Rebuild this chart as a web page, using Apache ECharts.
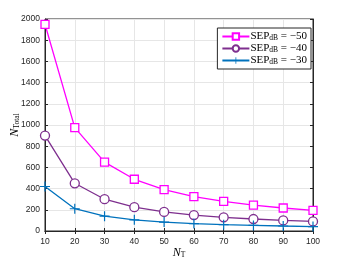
<!DOCTYPE html>
<html><head><meta charset="utf-8">
<script src="https://cdn.jsdelivr.net/npm/echarts@6/dist/echarts.min.js"></script>
<style>html,body{margin:0;padding:0;background:#fff}#c{width:346px;height:260px}</style>
</head><body><div id="c"></div>
<script>
const categories = [10, 20, 30, 40, 50, 60, 70, 80, 90, 100];
const sepMinus50 = [1950, 975, 650, 488, 390, 325, 279, 244, 217, 195];
const sepMinus40 = [900, 450, 300, 225, 180, 150, 129, 113, 100, 90];
const sepMinus30 = [420, 210, 140, 105, 84, 70, 60, 53, 47, 42];
const seriesNames = ['{n|SEP}{s|dB}{n| = \u221250}', '{n|SEP}{s|dB}{n| = \u221240}', '{n|SEP}{s|dB}{n| = \u221230}'];
const seriesKeys = ['s50', 's40', 's30'];
const labelsMap = {s50: seriesNames[0], s40: seriesNames[1], s30: seriesNames[2]};

const pair = arr => categories.map((c, i) => [c, arr[i]]);
const plusPath = 'path://M0,4.4H10V5.6H0Z M4.4,0H5.6V10H4.4Z';
const axisCol = '#262626';
const tickFont = {color: axisCol, fontSize: 8.5, fontFamily: 'Liberation Sans, Arial, sans-serif', formatter: v => String(v)};
const serif = 'Liberation Serif, DejaVu Serif, serif';
const rich = {
  n: {fontFamily: serif, fontSize: 11, color: '#000', lineHeight: 11},
  s: {fontFamily: serif, fontSize: 7.5, color: '#000', lineHeight: 4, verticalAlign: 'bottom'},
  i: {fontFamily: serif, fontSize: 12, fontStyle: 'italic', color: '#000', lineHeight: 12}
};

const chart = echarts.init(document.getElementById('c'), null, {renderer: 'canvas'});
const common = {type: 'line', showSymbol: true, symbolSize: 8, animation: false};
chart.setOption({
  backgroundColor: '#fff',
  animation: false,
  grid: {left: 45, right: 33, top: 19, bottom: 29, show: true, borderColor: axisCol, borderWidth: 1,
         containLabel: false, outerBoundsMode: 'none'},
  legend: {
    orient: 'vertical', right: 35, top: 28, itemWidth: 27, itemHeight: 8, itemGap: 1,
    backgroundColor: '#fff', borderColor: axisCol, borderWidth: 1, padding: [3, 4, 3, 4],
    formatter: k => labelsMap[k],
    textStyle: {rich: rich, padding: [0, 0, 0, -4]},
    data: seriesKeys
  },
  xAxis: [{
    type: 'value', min: 10, max: 100, interval: 10,
    axisLine: {show: true, lineStyle: {color: axisCol}},
    axisTick: {show: true, inside: true, length: 3, lineStyle: {color: axisCol}},
    axisLabel: Object.assign({margin: 6}, tickFont),
    splitLine: {show: true, lineStyle: {color: '#e6e6e6', width: 1}},
    name: '{i|N}{s|T}', nameLocation: 'middle', nameGap: 16, nameMoveOverlap: false, nameTextStyle: {rich: rich}
  }, {
    type: 'value', min: 10, max: 100, interval: 10, position: 'top',
    axisLine: {show: true, lineStyle: {color: axisCol}},
    axisTick: {show: true, inside: true, length: 3, lineStyle: {color: axisCol}},
    axisLabel: {show: false}, splitLine: {show: false}
  }],
  yAxis: [{
    type: 'value', min: 0, max: 2000, interval: 200,
    axisLine: {show: true, lineStyle: {color: axisCol}},
    axisTick: {show: true, inside: true, length: 3, lineStyle: {color: axisCol}},
    axisLabel: Object.assign({margin: 5}, tickFont),
    splitLine: {show: true, lineStyle: {color: '#e6e6e6', width: 1}},
    name: '{i|N}{s|Total}', nameLocation: 'middle', nameGap: 24, nameRotate: 90, nameMoveOverlap: false,
    nameTextStyle: {rich: rich}
  }, {
    type: 'value', min: 0, max: 2000, interval: 200, position: 'right',
    axisLine: {show: true, lineStyle: {color: axisCol}},
    axisTick: {show: true, inside: true, length: 3, lineStyle: {color: axisCol}},
    axisLabel: {show: false}, splitLine: {show: false}
  }],
  series: [
    Object.assign({}, common, {name: 's50', data: pair(sepMinus50), color: '#FF00FF', symbol: 'rect',
      lineStyle: {color: '#FF00FF', width: 1.3},
      itemStyle: {color: '#fff', borderColor: '#FF00FF', borderWidth: 1.3}, symbolSize: 8}),
    Object.assign({}, common, {name: 's40', data: pair(sepMinus40), color: '#7E2F8E', symbol: 'circle',
      lineStyle: {color: '#7E2F8E', width: 1.3},
      itemStyle: {color: '#fff', borderColor: '#7E2F8E', borderWidth: 1.3}, symbolSize: 9}),
    Object.assign({}, common, {name: 's30', data: pair(sepMinus30), color: '#0072BD', symbol: plusPath,
      lineStyle: {color: '#0072BD', width: 1.3},
      itemStyle: {color: '#0072BD'}, symbolSize: 10})
  ]
});
</script></body></html>
